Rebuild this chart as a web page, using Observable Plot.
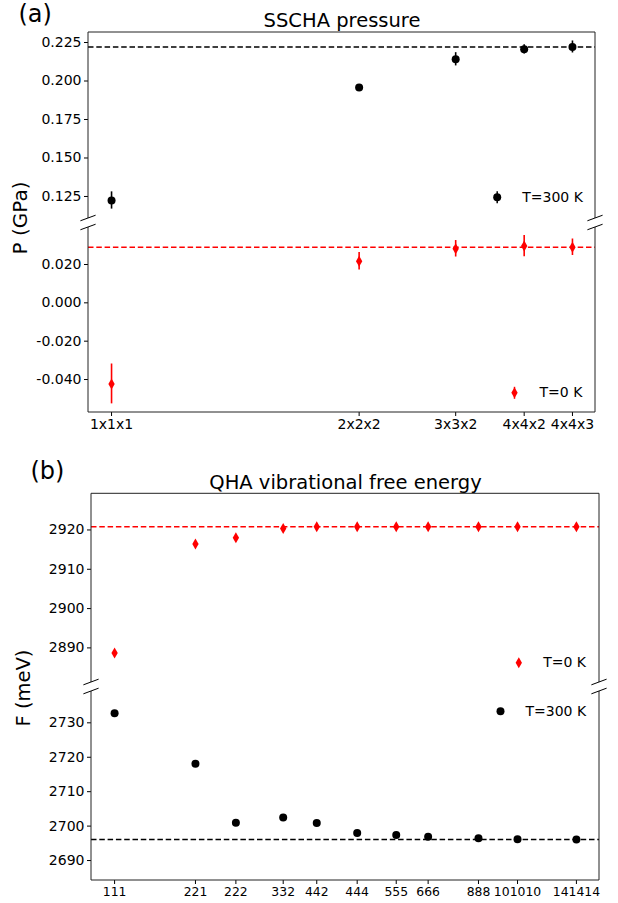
<!DOCTYPE html>
<html>
<head>
<meta charset="utf-8">
<script src="https://cdn.jsdelivr.net/npm/d3@7"></script>
<script src="https://cdn.jsdelivr.net/npm/@observablehq/plot@0.6"></script>
<style>
  body { margin: 0; background: #fff; font-family: "DejaVu Sans", sans-serif; }
  #root { position: relative; width: 618px; height: 903px; overflow: hidden; }
  .ylab { position: absolute; white-space: nowrap; line-height: 1; color: #000;
          transform: translate(-50%, -50%) rotate(-90deg); font-family: "DejaVu Sans", sans-serif; }
</style>
</head>
<body>
<div id="root"></div>
<script>
// ---------------- Data: panel (a) SSCHA pressure ----------------
const cellsA = ["1x1x1", "2x2x2", "3x3x2", "4x4x2", "4x4x3"];
const nCellsA = [1, 8, 18, 32, 48];
const pT300 = [0.1224, 0.1957, 0.2141, 0.2206, 0.2221];
const pT300Err = [0.0056, 0.0012, 0.0043, 0.0030, 0.0039];
const pT0 = [-0.0423, 0.0217, 0.0282, 0.0296, 0.0290];
const pT0Err = [0.0104, 0.0046, 0.0043, 0.0055, 0.0043];
const pT300Ref = 0.2221;
const pT0Ref = 0.0290;
const yTicksATop = [0.125, 0.150, 0.175, 0.200, 0.225];
const yTicksABot = [-0.040, -0.020, 0.000, 0.020];
const yDomATop = [0.1107, 0.2315];
const yDomABot = [-0.0572, 0.0393];

// ---------------- Data: panel (b) QHA vibrational free energy ----------------
const cellsB = ["111", "221", "222", "332", "442", "444", "555", "666", "888", "101010", "141414"];
const nCellsB = [1, 4, 8, 18, 32, 64, 125, 216, 512, 1000, 2744];
const fT0 = [2888.7, 2916.4, 2918.0, 2920.4, 2920.8, 2920.8, 2920.8, 2920.8, 2920.8, 2920.8, 2920.8];
const fT300 = [2732.8, 2718.1, 2701.0, 2702.5, 2700.9, 2698.0, 2697.4, 2696.9, 2696.5, 2696.2, 2696.1];
const fT0Ref = 2920.8;
const fT300Ref = 2696.1;
const yTicksBTop = [2890, 2900, 2910, 2920];
const yTicksBBot = [2690, 2700, 2710, 2720, 2730];
const yDomBTop = [2881.2, 2929.2];
const yDomBBot = [2684.2, 2739.1];

// ---------------- Helpers ----------------
// x is the cell count on a logarithmic axis: we position on ln(count) with a linear scale
const W = 618;
const lnA = nCellsA.map(Math.log);
const lnB = nCellsB.map(Math.log);
const dataA = cellsA.map((c, i) => ({c, lx: lnA[i], p300: pT300[i], e300: pT300Err[i], p0: pT0[i], e0: pT0Err[i]}));
const dataB = cellsB.map((c, i) => ({c, lx: lnB[i], f0: fT0[i], f300: fT300[i]}));
const labelOf = (lns, labels) => d => labels[lns.findIndex(v => Math.abs(v - d) < 1e-9)];

function logPad(lns) {
  const a = d3.min(lns), b = d3.max(lns), p = (b - a) * 0.05;
  return [a - p, b + p];
}
const xDomA = logPad(lnA);
const xDomB = logPad(lnB);

const thinDiamond = {
  draw(ctx, size) {
    const r = Math.sqrt(size / Math.PI);
    const h = r * 1.25, w = r * 0.72;
    ctx.moveTo(0, -h); ctx.lineTo(w, 0); ctx.lineTo(0, h); ctx.lineTo(-w, 0); ctx.closePath();
  }
};
const vbar = {
  draw(ctx, size) {
    const r = Math.sqrt(size / Math.PI);
    ctx.rect(-0.75, -r, 1.5, 2 * r);
  }
};

// spines (left, right and top/bottom) + diagonal break marks
function spines(edge) {
  return (index, scales, values, dim) => {
    const g = d3.create("svg:g").attr("fill", "none").attr("stroke", "#222").attr("stroke-width", 1);
    const L = dim.marginLeft, R = dim.width - dim.marginRight;
    const T = dim.marginTop, B = dim.height - dim.marginBottom;
    g.append("line").attr("x1", L).attr("x2", L).attr("y1", T).attr("y2", B);
    g.append("line").attr("x1", R).attr("x2", R).attr("y1", T).attr("y2", B);
    const y = edge === "bottom" ? B : T;
    const yo = edge === "bottom" ? T : B;
    g.append("line").attr("x1", L).attr("x2", R).attr("y1", yo).attr("y2", yo);
    const dx = 0.015 * (R - L), dy = 0.015 * (B - T);
    for (const x of [L, R]) {
      g.append("line").attr("x1", x - dx).attr("y1", y + dy).attr("x2", x + dx).attr("y2", y - dy).attr("stroke", "#000");
    }
    return g.node();
  };
}

const baseStyle = {
  fontFamily: "'DejaVu Sans', sans-serif",
  fontSize: "14px",
  color: "black",
  background: "transparent",
  overflow: "visible"
};
const dash = "5.5,2.8";
const fmt3 = d => d.toFixed(3);
const fmt0 = d => d.toFixed(0);

function place(svg, top) {
  svg.style.position = "absolute";
  svg.style.left = "0px";
  svg.style.top = top + "px";
  document.getElementById("root").appendChild(svg);
}

// ---------------- Panel (a) top ----------------
place(Plot.plot({
  width: W, height: 222,
  marginTop: 32, marginBottom: 4, marginLeft: 88, marginRight: 23,
  style: baseStyle,
  x: {domain: xDomA, axis: null},
  y: {domain: yDomATop},
  marks: [
    Plot.ruleY([pT300Ref], {stroke: "black", strokeWidth: 1.6, strokeDasharray: dash}),
    Plot.ruleX(dataA, {x: "lx", y1: d => d.p300 - d.e300, y2: d => d.p300 + d.e300, stroke: "black", strokeWidth: 1.6}),
    Plot.dot(dataA, {x: "lx", y: "p300", r: 4, fill: "black"}),
    Plot.dot([0], {frameAnchor: "bottom-right", dx: -98.3, dy: -21.3, symbol: vbar, r: 6, fill: "black"}),
    Plot.dot([0], {frameAnchor: "bottom-right", dx: -98.3, dy: -21.3, r: 4, fill: "black"}),
    Plot.text(["T=300 K"], {text: d => d, frameAnchor: "bottom-right", dx: -73.3, dy: -21.3, textAnchor: "start", lineAnchor: "middle", fontSize: 14}),
    Plot.text(["SSCHA pressure"], {text: d => d, frameAnchor: "top", dy: -5.3, lineAnchor: "bottom", fontSize: 19.5}),
    Plot.text(["(a)"], {text: d => d, frameAnchor: "top-left", dx: -70, dy: -11, textAnchor: "start", lineAnchor: "bottom", fontSize: 24}),
    Plot.axisY({ticks: yTicksATop, tickFormat: fmt3, tickSize: 4, tickPadding: 3, fontSize: 14, label: null}),
    spines("bottom")
  ]
}), 0);

// ---------------- Panel (a) bottom ----------------
place(Plot.plot({
  width: W, height: 218,
  marginTop: 5, marginBottom: 28, marginLeft: 88, marginRight: 23,
  style: baseStyle,
  x: {domain: xDomA},
  y: {domain: yDomABot},
  marks: [
    Plot.ruleY([pT0Ref], {stroke: "red", strokeWidth: 1.6, strokeDasharray: dash}),
    Plot.ruleX(dataA, {x: "lx", y1: d => d.p0 - d.e0, y2: d => d.p0 + d.e0, stroke: "red", strokeWidth: 1.6}),
    Plot.dot(dataA, {x: "lx", y: "p0", r: 4.4, symbol: thinDiamond, fill: "red"}),
    Plot.dot([0], {frameAnchor: "bottom-right", dx: -81, dy: -19.7, symbol: vbar, r: 6, fill: "red"}),
    Plot.dot([0], {frameAnchor: "bottom-right", dx: -81, dy: -19.7, symbol: thinDiamond, r: 4.4, fill: "red"}),
    Plot.text(["T=0 K"], {text: d => d, frameAnchor: "bottom-right", dx: -56, dy: -19.7, textAnchor: "start", lineAnchor: "middle", fontSize: 14}),
    Plot.axisY({ticks: yTicksABot, tickFormat: fmt3, tickSize: 4, tickPadding: 3, fontSize: 14, label: null}),
    Plot.axisX({ticks: lnA, tickFormat: labelOf(lnA, cellsA), tickSize: 4, tickPadding: 3, fontSize: 14, label: null}),
    spines("top")
  ]
}), 222);

// ---------------- Panel (b) top ----------------
place(Plot.plot({
  width: W, height: 246,
  marginTop: 53.3, marginBottom: 4, marginLeft: 91, marginRight: 19,
  style: baseStyle,
  x: {domain: xDomB, axis: null},
  y: {domain: yDomBTop},
  marks: [
    Plot.ruleY([fT0Ref], {stroke: "red", strokeWidth: 1.6, strokeDasharray: dash}),
    Plot.dot(dataB, {x: "lx", y: "f0", r: 4.4, symbol: thinDiamond, fill: "red"}),
    Plot.dot([0], {frameAnchor: "bottom-right", dx: -80.7, dy: -19.7, symbol: thinDiamond, r: 4.4, fill: "red"}),
    Plot.text(["T=0 K"], {text: d => d, frameAnchor: "bottom-right", dx: -56.3, dy: -19.7, textAnchor: "start", lineAnchor: "middle", fontSize: 14}),
    Plot.text(["QHA vibrational free energy"], {text: d => d, frameAnchor: "top", dy: -5, lineAnchor: "bottom", fontSize: 19.5}),
    Plot.text(["(b)"], {text: d => d, frameAnchor: "top-left", dx: -61, dy: -14.6, textAnchor: "start", lineAnchor: "bottom", fontSize: 24}),
    Plot.axisY({ticks: yTicksBTop, tickFormat: fmt0, tickSize: 4, tickPadding: 3, fontSize: 14, label: null}),
    spines("bottom")
  ]
}), 440);

// ---------------- Panel (b) bottom ----------------
place(Plot.plot({
  width: W, height: 217,
  marginTop: 5, marginBottom: 23, marginLeft: 91, marginRight: 19,
  style: baseStyle,
  x: {domain: xDomB},
  y: {domain: yDomBBot},
  marks: [
    Plot.ruleY([fT300Ref], {stroke: "black", strokeWidth: 1.6, strokeDasharray: dash}),
    Plot.dot(dataB, {x: "lx", y: "f300", r: 4, fill: "black"}),
    Plot.dot([0], {frameAnchor: "top-right", dx: -99, dy: 19.7, r: 4, fill: "black"}),
    Plot.text(["T=300 K"], {text: d => d, frameAnchor: "top-right", dx: -74, dy: 19.7, textAnchor: "start", lineAnchor: "middle", fontSize: 14}),
    Plot.axisY({ticks: yTicksBBot, tickFormat: fmt0, tickSize: 4, tickPadding: 3, fontSize: 14, label: null}),
    Plot.axisX({ticks: lnB, tickFormat: labelOf(lnB, cellsB), tickSize: 4, tickPadding: 3, fontSize: 12.4, label: null}),
    spines("top")
  ]
}), 686);

// ---------------- Y-axis labels ----------------
function ylab(text, x, y, size) {
  const d = document.createElement("div");
  d.className = "ylab";
  d.textContent = text;
  d.style.left = x + "px";
  d.style.top = y + "px";
  d.style.fontSize = size + "px";
  document.getElementById("root").appendChild(d);
}
ylab("P (GPa)", 20, 217.5, 20);
ylab("F (meV)", 23.5, 687.5, 19.5);
</script>
</body>
</html>
